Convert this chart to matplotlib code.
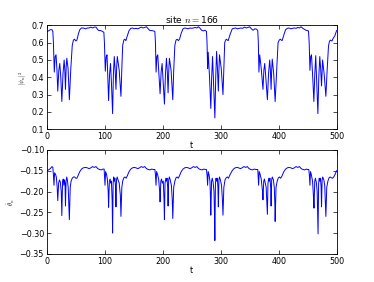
import numpy as np
import matplotlib
matplotlib.use("Agg")
import matplotlib.pyplot as plt

# |psi_n|^2, one list per cycle
t_psi_c1 = [0, 3, 6, 9, 10.5, 11.5, 13, 14.5, 16, 17.5, 19, 20.8, 22.5, 24.2, 26, 28, 30, 31.2, 32.3, 33.5,
            34.6, 36.8, 39, 41.5, 44, 46, 48, 50, 52, 54.5, 57, 60, 63, 67, 70, 73, 76, 79, 82, 85, 88, 90,
            93, 96, 98.5]
psi_c1 = [0.665, 0.668, 0.675, 0.675, 0.665, 0.60, 0.43, 0.52, 0.53, 0.45, 0.32, 0.44, 0.48, 0.40, 0.26, 0.42,
          0.50, 0.44, 0.33, 0.46, 0.51, 0.45, 0.27, 0.45, 0.585, 0.615, 0.62, 0.61, 0.615, 0.65, 0.675, 0.685,
          0.685, 0.68, 0.685, 0.685, 0.69, 0.685, 0.69, 0.69, 0.675, 0.67, 0.67, 0.665, 0.66]
t_psi_c2 = [99.5, 101, 102.5, 104, 105.3, 106.7, 108.4, 110, 111.8, 113.6, 115, 116.5, 118, 119.4, 120.5, 121.7,
            125, 128, 129.5, 131, 133, 134.5, 136.5, 139, 142, 145, 148, 151, 154, 157, 160, 163, 166, 169,
            172, 175, 178, 181, 184, 186.5]
psi_c2 = [0.60, 0.435, 0.52, 0.53, 0.40, 0.265, 0.42, 0.48, 0.35, 0.19, 0.42, 0.52, 0.44, 0.33, 0.45, 0.52,
          0.44, 0.29, 0.45, 0.585, 0.615, 0.62, 0.612, 0.64, 0.67, 0.683, 0.685, 0.68, 0.683, 0.68, 0.685,
          0.69, 0.685, 0.688, 0.692, 0.68, 0.67, 0.67, 0.668, 0.665]
t_psi_c3 = [187.5, 188.6, 190, 191.5, 193.5, 195.5, 197.3, 199, 201, 203, 204.8, 206.5, 208, 209.3, 210.5,
            211.6, 214.5, 217.4, 219, 221, 223, 225, 227, 229, 232, 235, 238, 241, 244, 247, 250, 253, 256,
            259, 261.5, 264, 267, 270, 273, 275.5]
psi_c3 = [0.60, 0.43, 0.52, 0.53, 0.42, 0.305, 0.43, 0.48, 0.36, 0.245, 0.42, 0.51, 0.43, 0.31, 0.44, 0.51,
          0.44, 0.27, 0.44, 0.585, 0.615, 0.62, 0.612, 0.62, 0.655, 0.68, 0.685, 0.683, 0.68, 0.685, 0.683,
          0.685, 0.688, 0.685, 0.692, 0.685, 0.672, 0.668, 0.672, 0.665]
t_psi_c4 = [276.5, 277.5, 278.5, 280.8, 283, 284.5, 286, 288, 290, 291.5, 293, 294.5, 296, 297, 298, 301, 304,
            305.5, 307, 308.5, 310, 311.5, 313, 316, 320, 323, 326, 329, 332, 335, 338, 341, 344, 347, 350,
            353, 356, 359, 362, 364]
psi_c4 = [0.60, 0.45, 0.545, 0.40, 0.22, 0.40, 0.52, 0.35, 0.165, 0.40, 0.55, 0.45, 0.32, 0.44, 0.53, 0.45,
          0.30, 0.45, 0.60, 0.615, 0.62, 0.615, 0.612, 0.645, 0.68, 0.683, 0.685, 0.68, 0.683, 0.685, 0.683,
          0.69, 0.685, 0.688, 0.692, 0.68, 0.672, 0.68, 0.678, 0.67]
t_psi_c5 = [365, 366, 367.4, 370, 373, 374.5, 376, 378.3, 380.6, 382.6, 384.6, 385.8, 387, 388, 389, 391.5,
            394, 396.5, 399, 401, 403, 404.5, 406, 409, 412, 415, 418, 421, 424, 427, 430, 433, 436, 438.5,
            441, 444, 447, 449.5, 451.5]
psi_c5 = [0.60, 0.43, 0.53, 0.45, 0.33, 0.44, 0.48, 0.38, 0.27, 0.42, 0.50, 0.44, 0.33, 0.44, 0.505, 0.42,
          0.26, 0.43, 0.60, 0.615, 0.62, 0.615, 0.612, 0.645, 0.675, 0.683, 0.685, 0.68, 0.683, 0.685, 0.683,
          0.688, 0.685, 0.692, 0.685, 0.678, 0.672, 0.67, 0.668]
t_psi_c6 = [452.7, 454, 455.3, 456.7, 458.8, 460.8, 462.4, 464, 465.8, 467.7, 469.3, 471, 472.5, 474, 475,
            475.8, 478.5, 481.5, 483.5, 486, 487.5, 489, 490.5, 492, 494, 497, 500]
psi_c6 = [0.60, 0.44, 0.52, 0.53, 0.40, 0.26, 0.42, 0.525, 0.36, 0.19, 0.40, 0.52, 0.45, 0.35, 0.44, 0.50,
          0.42, 0.29, 0.43, 0.58, 0.605, 0.615, 0.612, 0.61, 0.625, 0.64, 0.67]

# d(theta_n)/dt
t_th_c1 = [0, 3, 6, 9, 10.5, 11.5, 12.5, 13.5, 15, 16.5, 18, 19, 20.5, 22, 23.5, 25, 26, 27.3, 28.5, 29.5,
           30.5, 31.5, 32.3, 33.3, 34.5, 35.5, 37, 39, 40.5, 42, 44, 46, 48, 50, 52, 54.5, 57, 60, 63, 67,
           70, 73, 76, 79, 82, 85, 88, 91, 94, 97, 99]
th_c1 = [-0.15, -0.148, -0.145, -0.14, -0.142, -0.16, -0.185, -0.155, -0.158, -0.165, -0.19, -0.222, -0.18,
         -0.172, -0.178, -0.2, -0.258, -0.175, -0.17, -0.185, -0.172, -0.18, -0.235, -0.175, -0.165, -0.172,
         -0.19, -0.268, -0.19, -0.175, -0.168, -0.165, -0.165, -0.168, -0.168, -0.16, -0.152, -0.146, -0.143,
         -0.142, -0.143, -0.145, -0.143, -0.14, -0.142, -0.14, -0.145, -0.147, -0.148, -0.146, -0.146]
t_th_c2 = [99.5, 100.5, 101.5, 103, 104.5, 106, 106.7, 108, 109.3, 110.5, 111.5, 112.8, 113.6, 114.5, 115.5,
           116.5, 117.5, 118.7, 119.4, 120.3, 121.5, 123, 125, 127, 128, 129.5, 131, 133, 135, 137, 139, 142,
           145, 148, 151, 154, 157, 160, 163, 166, 169, 172, 175, 178, 181, 184, 186.5]
th_c2 = [-0.16, -0.185, -0.152, -0.158, -0.17, -0.2, -0.238, -0.175, -0.17, -0.18, -0.175, -0.22, -0.30,
         -0.18, -0.165, -0.175, -0.168, -0.19, -0.237, -0.172, -0.165, -0.172, -0.18, -0.21, -0.26, -0.19,
         -0.175, -0.167, -0.165, -0.168, -0.162, -0.152, -0.146, -0.143, -0.142, -0.143, -0.145, -0.143,
         -0.14, -0.142, -0.14, -0.145, -0.147, -0.148, -0.146, -0.147, -0.147]
t_th_c3 = [187.5, 188.5, 189.5, 191, 193, 194.8, 195.5, 196.8, 198, 199.5, 201, 202.3, 203, 204, 205.5, 206.5,
           207.5, 208.6, 209.3, 210.3, 211.5, 213, 215, 216.5, 217.4, 219, 221, 223, 225, 227, 229, 232, 235,
           238, 241, 244, 247, 250, 253, 256, 259, 262, 265, 268, 271, 274, 275.5]
th_c3 = [-0.16, -0.185, -0.152, -0.158, -0.17, -0.2, -0.225, -0.175, -0.17, -0.18, -0.175, -0.22, -0.268,
         -0.18, -0.168, -0.175, -0.168, -0.19, -0.235, -0.172, -0.165, -0.172, -0.185, -0.22, -0.265, -0.19,
         -0.175, -0.167, -0.165, -0.168, -0.162, -0.152, -0.146, -0.143, -0.142, -0.143, -0.145, -0.143,
         -0.14, -0.142, -0.14, -0.145, -0.147, -0.148, -0.146, -0.147, -0.147]
t_th_c4 = [276.5, 277.5, 278.5, 280, 281.5, 282.3, 283, 284.3, 285.5, 287, 288.5, 289.3, 290, 291, 292, 293,
           294.2, 295.3, 296, 297, 298, 299.5, 301.5, 303, 304, 305.5, 307.5, 309.5, 311.5, 313.5, 316, 319,
           322, 325, 328, 331, 334, 337, 340, 343, 346, 349, 352, 355, 358, 361, 364]
th_c4 = [-0.16, -0.185, -0.152, -0.16, -0.175, -0.21, -0.257, -0.175, -0.168, -0.178, -0.2, -0.25, -0.318,
         -0.18, -0.168, -0.175, -0.168, -0.19, -0.237, -0.172, -0.165, -0.172, -0.185, -0.22, -0.257, -0.19,
         -0.172, -0.167, -0.165, -0.168, -0.16, -0.152, -0.146, -0.143, -0.142, -0.143, -0.145, -0.143,
         -0.14, -0.142, -0.14, -0.145, -0.147, -0.148, -0.146, -0.147, -0.147]
t_th_c5 = [364.5, 365.5, 366.5, 368, 370, 372.2, 373, 374.3, 375.5, 377, 378.5, 379.8, 380.6, 381.6, 383, 384,
           385, 386.3, 387, 388, 389, 391, 392.5, 393.5, 394, 395.5, 397.5, 399.5, 401.5, 403.5, 406, 409,
           412, 415, 418, 421, 424, 427, 430, 433, 436, 439, 442, 445, 448, 450, 452]
th_c5 = [-0.16, -0.185, -0.152, -0.158, -0.17, -0.2, -0.22, -0.175, -0.17, -0.18, -0.19, -0.23, -0.255,
         -0.18, -0.168, -0.175, -0.168, -0.19, -0.235, -0.172, -0.165, -0.172, -0.19, -0.23, -0.272, -0.19,
         -0.175, -0.167, -0.165, -0.168, -0.162, -0.152, -0.146, -0.143, -0.142, -0.143, -0.145, -0.143,
         -0.14, -0.142, -0.14, -0.145, -0.147, -0.148, -0.146, -0.147, -0.147]
t_th_c6 = [453, 454, 455, 456.5, 458.5, 460, 461, 462.3, 463.5, 465, 466.5, 467.3, 468, 469, 470, 471, 472.2,
           473.3, 474, 475, 476, 478, 479.5, 480.5, 481.5, 483, 485, 487, 489, 491, 493, 495, 497, 500]
th_c6 = [-0.16, -0.185, -0.152, -0.16, -0.175, -0.21, -0.24, -0.175, -0.168, -0.178, -0.2, -0.25, -0.302,
         -0.18, -0.168, -0.175, -0.168, -0.19, -0.237, -0.172, -0.165, -0.172, -0.185, -0.22, -0.26, -0.19,
         -0.175, -0.167, -0.165, -0.167, -0.168, -0.165, -0.16, -0.15]

psi_ticks = [0.1, 0.2, 0.3, 0.4, 0.5, 0.6, 0.7]
th_ticks = [-0.35, -0.30, -0.25, -0.20, -0.15, -0.10]
t_ticks = [0, 100, 200, 300, 400, 500]

t_psi = np.concatenate([t_psi_c1, t_psi_c2, t_psi_c3, t_psi_c4, t_psi_c5, t_psi_c6])
psi = np.concatenate([psi_c1, psi_c2, psi_c3, psi_c4, psi_c5, psi_c6])
t_th = np.concatenate([t_th_c1, t_th_c2, t_th_c3, t_th_c4, t_th_c5, t_th_c6])
th = np.concatenate([th_c1, th_c2, th_c3, th_c4, th_c5, th_c6])

plt.rcParams['mathtext.fontset'] = 'cm'
fs = 5.8

fig, (ax1, ax2) = plt.subplots(2, 1, figsize=(3.74, 2.82), dpi=100)

ax1.plot(t_psi, psi, color='b', lw=0.7)
ax1.set_xlim(0, 500)
ax1.set_ylim(0.1, 0.7)
ax1.set_yticks(psi_ticks)
ax1.set_yticklabels(['%.1f' % v for v in psi_ticks])
ax1.set_title('site $n=$166', fontsize=6.6, pad=2)
ax1.set_xlabel('t', fontsize=fs, labelpad=0)
ax1.set_ylabel(r'$|\psi_n|^2$', fontsize=4.5, labelpad=2)

ax2.plot(t_th, th, color='b', lw=0.7)
ax2.set_xlim(0, 500)
ax2.set_ylim(-0.35, -0.10)
ax2.set_yticks(th_ticks)
ax2.set_yticklabels(['\u2212%.2f' % abs(v) for v in th_ticks])
ax2.set_xlabel('t', fontsize=fs, labelpad=0)
ax2.set_ylabel(r'$\dot{\theta}_n$', fontsize=4.5, labelpad=2)

for ax in (ax1, ax2):
    ax.set_xticks(t_ticks)
    ax.tick_params(direction='in', top=True, right=True, labelsize=fs, length=3, width=0.5, pad=2)
    for s in ax.spines.values():
        s.set_linewidth(0.6)

fig.subplots_adjust(left=0.125, right=0.9, top=0.91, bottom=0.1, hspace=0.2)
fig.savefig('out.png', dpi=100)
